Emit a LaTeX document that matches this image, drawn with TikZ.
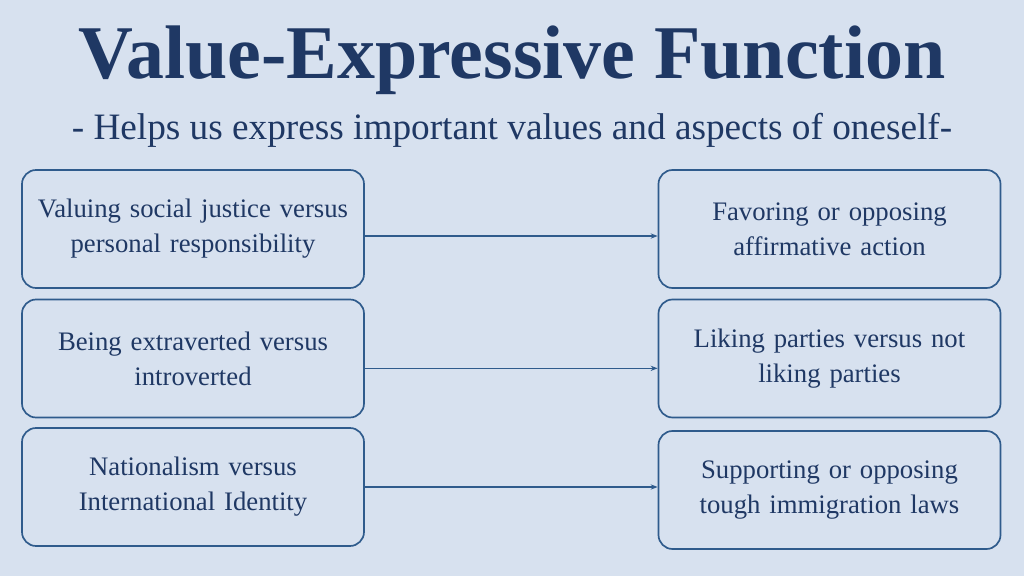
\documentclass[tikz,border=0pt]{standalone}
\usepackage{fontspec}
\setmainfont{Liberation Serif}
\usetikzlibrary{positioning,arrows.meta}
\definecolor{bgblue}{HTML}{D7E1EF}
\definecolor{inkblue}{HTML}{1F3864}
\definecolor{lineblue}{HTML}{2F5B8C}
\tikzset{
  ideabox/.style={draw=lineblue, line width=1.2pt, rounded corners=10pt, minimum width=8.55cm, minimum height=2.95cm, align=center, inner xsep=0pt, text width=8.4cm, font=\fontsize{19}{25}\selectfont, text=inkblue},
  link/.style={draw=lineblue, line width=0.9pt, -{Stealth[length=5pt]}}
}
\begin{document}
\begin{tikzpicture}
  % background
  \fill[bgblue] (0,0) rectangle (25.6,14.4);
  \useasboundingbox (0,0) rectangle (25.6,14.4);
  % heading
  \node[text=inkblue, font=\bfseries\fontsize{54}{58}\selectfont] (title) at (12.8,12.9) {Value-Expressive Function};
  \node[text=inkblue, font=\fontsize{26.5}{30}\selectfont] (subtitle) at (12.8,11.15) {- Helps us express important values and aspects of oneself-};
  % left column
  \node[ideabox] (v1) at (4.825,8.675) {Valuing social justice versus\\personal responsibility};
  \node[ideabox] (v2) at (4.825,5.4375) {Being extraverted versus\\introverted};
  \node[ideabox] (v3) at (4.825,2.225) {Nationalism versus\\International Identity};
  % right column
  \node[ideabox] (a1) at (20.7375,8.675) {Favoring or opposing\\affirmative action};
  \node[ideabox] (a2) at (20.7375,5.4375) {Liking parties versus not\\liking parties};
  \node[ideabox] (a3) at (20.7375,2.15) {Supporting or opposing\\tough immigration laws};
  % arrows
  \foreach \i/\s in {1/-5pt,2/-7pt,3/0pt}
    \draw[link] ([yshift=\s]v\i.east) -- ([yshift=\s]v\i.east -| a\i.west);
\end{tikzpicture}
\end{document}
